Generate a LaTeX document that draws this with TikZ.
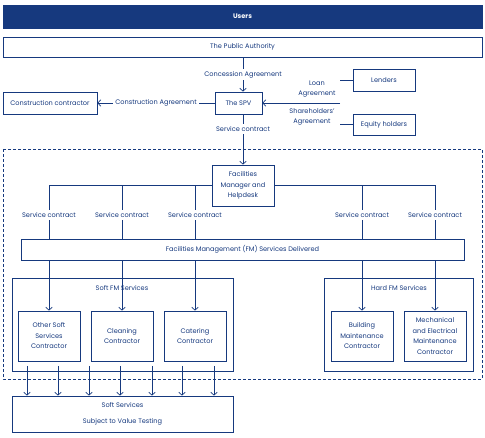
\documentclass[tikz,border=0pt]{standalone}
\usepackage{fontspec}
\setmainfont{Poppins}
\usetikzlibrary{arrows.meta}
\definecolor{fmblue}{RGB}{22,57,126}

\begin{document}
\begin{tikzpicture}[x=1pt, y=-1pt,
                    txt/.style={font=\fontsize{6.6}{10.5}\selectfont, text=fmblue, align=center, inner sep=1pt},
                    lbl/.style={txt, fill=white, inner sep=2.5pt},
                    box/.style={txt, draw=fmblue, line width=0.7pt, inner sep=0pt},
                    link/.style={draw=fmblue, line width=0.7pt},
                    >={Straight Barb[length=3pt,width=6.5pt]}]
  \useasboundingbox (0,0) rectangle (485,438);

  % who pays and who contracts
  \node[box, fill=fmblue, text=white, font=\fontsize{6.6}{10.5}\selectfont\bfseries,
        minimum width=479pt, minimum height=23pt] (users) at (242.5,16.5) {Users};
  \node[box, minimum width=479pt, minimum height=20pt] (pa) at (242.5,47) {The Public Authority};
  \node[box, minimum width=47pt, minimum height=22pt] (spv) at (238.5,103) {The SPV};
  \node[box, minimum width=94pt, minimum height=22pt] (cc) at (50,103) {Construction contractor};
  \node[box, minimum width=62pt, minimum height=22pt] (lenders) at (384,80) {Lenders};
  \node[box, minimum width=62pt, minimum height=21pt] (equity) at (384,124.5) {Equity holders};
  \node[box, minimum width=62pt, minimum height=41pt] (fm) at (243,185.5)
    {Facilities\\Manager and\\Helpdesk};

  \draw[link, ->] (pa.south -| fm) -- node[lbl]{Concession Agreement} (spv.north -| fm);
  \draw[link, ->] (spv.west) -- node[lbl]{Construction Agreement} (cc.east);
  \coordinate (lendend) at (340,80);
  \coordinate (eqend) at (340,124.5);
  \coordinate (finend) at (340,103);
  \draw[link] (lenders.west) -- (lendend);
  \draw[link] (equity.west) -- (eqend);
  \draw[link, ->] (finend) -- (spv.east);
  \node[txt] (loan) at (317,89) {Loan\\Agreement};
  \node[txt] (share) at (312,117) {Shareholders'\\Agreement};
  \draw[link, ->] (spv.south -| fm) -- node[lbl, pos=.3]{Service contract} (fm.north);

  % the FM package, dashed
  \draw[fmblue, line width=0.7pt, dash pattern=on 3pt off 2pt] (3,149) rectangle (482,379);
  \node[box, minimum width=443pt, minimum height=21pt] (fmd) at (242.5,249.5)
    {Facilities Management (FM) Services Delivered};
  \node[box, minimum width=221pt, minimum height=93pt] (softfm) at (122.5,324.5) {};
  \node[box, minimum width=149pt, minimum height=93pt] (hardfm) at (398.5,324.5) {};
  \node[txt] (softlbl) at (122,288) {Soft FM Services};
  \node[txt] (hardlbl) at (399,288) {Hard FM Services};

  \node[box, minimum width=62pt, minimum height=50pt] (osc) at (49,336) {Other Soft\\Services\\Contractor};
  \node[box, minimum width=62pt, minimum height=50pt] (clean) at (122,336) {Cleaning\\Contractor};
  \node[box, minimum width=62pt, minimum height=50pt] (cater) at (195,336) {Catering\\Contractor};
  \node[box, minimum width=62pt, minimum height=50pt] (bldg) at (362,336) {Building\\Maintenance\\Contractor};
  \node[box, minimum width=62pt, minimum height=50pt] (mech) at (435,336)
    {Mechanical\\and Electrical\\Maintenance\\Contractor};

  \foreach \n/\x in {1/49,2/122,3/195,4/362,5/435}
    \coordinate (br\n) at (\x,185.5);
  \draw[link] (br1) -- (fm.west);
  \draw[link] (fm.east) -- (br5);
  \foreach \b/\c in {br1/osc, br2/clean, br3/cater, br4/bldg, br5/mech} {
    \draw[link] (\b) -- node[lbl, pos=.56]{Service contract} (\b |- fmd.north);
    \draw[link, ->] (\b |- fmd.south) -- (\c.north);
  }

  % soft services go to value testing
  \node[box, minimum width=221pt, minimum height=36pt] (ss) at (122.5,414)
    {Soft Services\\[5pt]Subject to Value Testing};
  \foreach \i/\x in {1/27,2/58,3/89,4/120,5/152,6/182,7/214} {
    \coordinate (vt\i) at (\x,366);
    \draw[link, ->] (vt\i) -- (vt\i |- ss.north);
  }
\end{tikzpicture}
\end{document}
